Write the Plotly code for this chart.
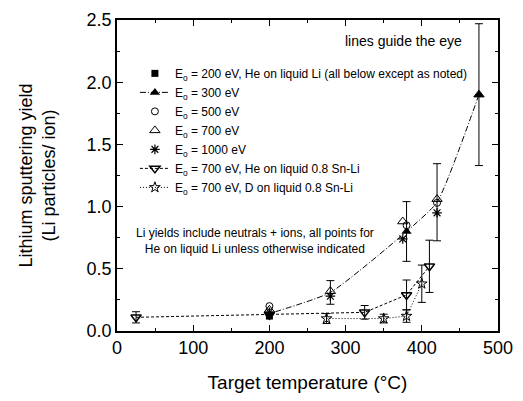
import plotly.graph_objects as go

# Guide line / 300 eV He on liquid Li (listed high-T first)
guide_x = [475, 420, 380, 280, 200]
guide_y = [1.90, 1.035, 0.80, 0.31, 0.14]
guide_err = [0.57, 0.31, 0.24, 0.095, 0.0]
guide_marker_visible = [True, False, True, False, False]

e200_x = [200]
e200_y = [0.12]

e500_x = [200, 380, 420]
e500_y = [0.20, 0.85, 1.03]

e700_x = [200, 280, 375, 420, 475]
e700_y = [0.17, 0.32, 0.88, 1.06, 1.90]

e1000_x = [200, 280, 375, 420]
e1000_y = [0.15, 0.28, 0.74, 0.95]

snli_he_x = [25, 200, 325, 380, 410]
snli_he_y = [0.11, 0.13, 0.15, 0.29, 0.52]
snli_he_err = [0.045, 0.0, 0.055, 0.12, 0.21]

snli_d_x = [275, 350, 380, 400]
snli_d_y = [0.10, 0.10, 0.12, 0.38]
snli_d_err = [0.04, 0.035, 0.05, 0.15]

FONT = "Liberation Sans, Arial, sans-serif"
BLK = "black"

fig = go.Figure()

fig.add_trace(go.Scatter(
    x=e200_x, y=e200_y, mode="markers",
    name="E<sub>o</sub> = 200 eV, He on liquid Li (all below except as noted)",
    marker=dict(symbol="square", size=7, color=BLK, line=dict(width=0)),
))

fig.add_trace(go.Scatter(
    x=guide_x, y=guide_y, mode="lines+markers",
    name="E<sub>o</sub> = 300 eV",
    line=dict(color=BLK, width=1, dash="6px,2px,1px,2px", shape="spline", smoothing=0.5),
    marker=dict(symbol="triangle-up", size=9,
                color=[BLK if v else "rgba(0,0,0,0)" for v in guide_marker_visible],
                line=dict(width=0)),
    error_y=dict(type="data", array=guide_err, visible=True, color=BLK, thickness=1, width=4),
))

fig.add_trace(go.Scatter(
    x=e500_x, y=e500_y, mode="markers", name="E<sub>o</sub> = 500 eV",
    marker=dict(symbol="circle-open", size=7, color=BLK, line=dict(width=1)),
))

fig.add_trace(go.Scatter(
    x=e700_x, y=e700_y, mode="markers", name="E<sub>o</sub> = 700 eV",
    marker=dict(symbol="triangle-up-open", size=9, color=BLK, line=dict(width=1)),
))

fig.add_trace(go.Scatter(
    x=e1000_x, y=e1000_y, mode="markers", name="E<sub>o</sub> = 1000 eV",
    marker=dict(symbol="asterisk-open", size=8, color=BLK, line=dict(width=1.2, color=BLK)),
))

fig.add_trace(go.Scatter(
    x=snli_he_x, y=snli_he_y, mode="lines+markers",
    name="E<sub>o</sub> = 700 eV, He on liquid 0.8 Sn-Li",
    line=dict(color=BLK, width=1, dash="3px,2px"),
    marker=dict(symbol="triangle-down-open", size=9, color=BLK, line=dict(width=1.5)),
    error_y=dict(type="data", array=snli_he_err, visible=True, color=BLK, thickness=1, width=4),
))

fig.add_trace(go.Scatter(
    x=snli_d_x, y=snli_d_y, mode="lines+markers",
    name="E<sub>o</sub> = 700 eV, D on liquid 0.8 Sn-Li",
    line=dict(color=BLK, width=1, dash="1px,2px"),
    marker=dict(symbol="star-open", size=8, color=BLK, line=dict(width=1)),
    error_y=dict(type="data", array=snli_d_err, visible=True, color=BLK, thickness=1, width=4),
))

fig.add_annotation(x=376, y=2.33, xref="x", yref="y", text="lines guide the eye",
                   showarrow=False, font=dict(family=FONT, size=14, color=BLK))
fig.add_annotation(x=181, y=0.72, xref="x", yref="y",
                   text="Li yields include neutrals + ions, all points for<br>He on liquid Li unless otherwise indicated",
                   showarrow=False, align="center", font=dict(family=FONT, size=12, color=BLK))

axis_common = dict(
    showline=True, linecolor=BLK, linewidth=1.5, mirror="allticks",
    ticks="inside", ticklen=6, tickwidth=1.2, tickcolor=BLK,
    showgrid=False, zeroline=False, automargin=False,
    ticklabeloverflow="allow",
    tickfont=dict(family=FONT, size=18, color=BLK),
)

fig.update_xaxes(
    range=[0, 500], dtick=100, tick0=0,
    minor=dict(dtick=50, ticks="inside", ticklen=3, tickcolor=BLK, tickwidth=1),
    title=dict(text="Target temperature (°C)", font=dict(family=FONT, size=19, color=BLK), standoff=21),
    **axis_common,
)
fig.update_yaxes(
    range=[0, 2.5], dtick=0.5, tick0=0, tickformat=".1f",
    minor=dict(dtick=0.25, ticks="inside", ticklen=3, tickcolor=BLK, tickwidth=1),
    title=dict(text="Lithium sputtering yield<br>(Li particles/ ion)", font=dict(family=FONT, size=18, color=BLK), standoff=26),
    **axis_common,
)

# the page places the figure 8 px in from the top-left corner
fig.update_layout(
    width=507, height=385,
    margin=dict(l=109, r=17, t=12, b=62),
    paper_bgcolor="white", plot_bgcolor="white",
    font=dict(family=FONT, color=BLK),
    legend=dict(x=0.047, y=0.875, xanchor="left", yanchor="top",
                bgcolor="rgba(0,0,0,0)", borderwidth=0,
                font=dict(family=FONT, size=12, color=BLK),
                tracegroupgap=0),
    showlegend=True,
)

fig.write_html("out.html")
